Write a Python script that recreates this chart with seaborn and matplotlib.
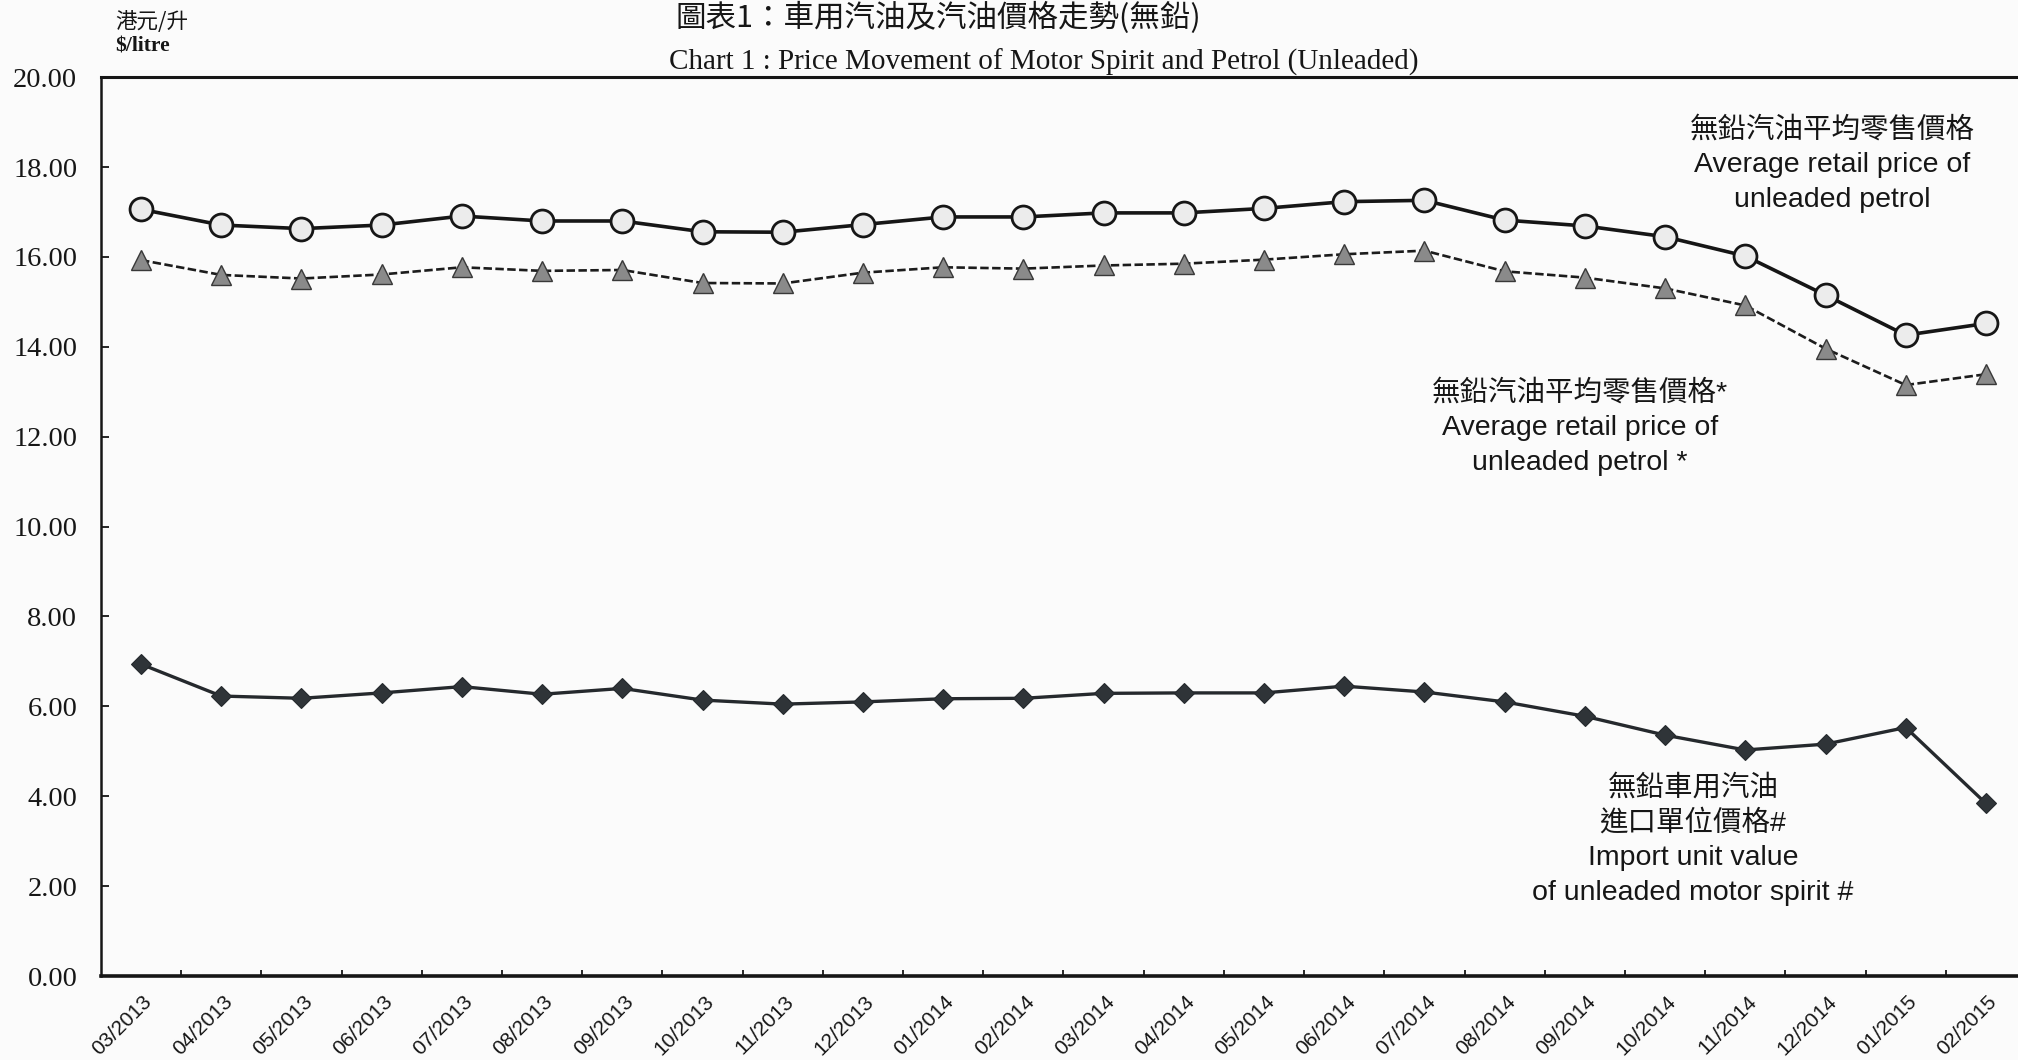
import numpy as np
import pandas as pd
import matplotlib
matplotlib.use("Agg")
import matplotlib.pyplot as plt
import matplotlib.transforms as mtransforms
import seaborn as sns

# ---------------- data ----------------
months = ["03/2013", "04/2013", "05/2013", "06/2013", "07/2013", "08/2013",
          "09/2013", "10/2013", "11/2013", "12/2013", "01/2014", "02/2014",
          "03/2014", "04/2014", "05/2014", "06/2014", "07/2014", "08/2014",
          "09/2014", "10/2014", "11/2014", "12/2014", "01/2015", "02/2015"]

retail_price = [17.06, 16.71, 16.63, 16.71, 16.91, 16.80, 16.80, 16.56,
                16.55, 16.72, 16.89, 16.89, 16.98, 16.98, 17.08, 17.23,
                17.26, 16.82, 16.69, 16.45, 16.02, 15.15, 14.26, 14.52]

retail_price_star = [15.93, 15.60, 15.52, 15.61, 15.77, 15.69, 15.71, 15.42,
                     15.41, 15.65, 15.77, 15.74, 15.81, 15.85, 15.94, 16.06,
                     16.14, 15.68, 15.54, 15.30, 14.92, 13.96, 13.15, 13.39]

import_unit_value = [6.94, 6.23, 6.18, 6.30, 6.44, 6.27, 6.40, 6.14,
                     6.05, 6.10, 6.17, 6.18, 6.29, 6.30, 6.30, 6.45,
                     6.32, 6.10, 5.78, 5.36, 5.03, 5.16, 5.53, 3.84]

y_ticks = [0, 2, 4, 6, 8, 10, 12, 14, 16, 18, 20]

title_zh = "圖表1：車用汽油及汽油價格走勢(無鉛)"
title_en = "Chart 1 : Price Movement of Motor Spirit and Petrol (Unleaded)"
unit_zh = "港元/升"
unit_en = "$/litre"
label_retail = "無鉛汽油平均零售價格\nAverage retail price of\nunleaded petrol"
label_retail_star = "無鉛汽油平均零售價格*\nAverage retail price of\nunleaded petrol *"
label_import = "無鉛車用汽油\n進口單位價格#\nImport unit value\nof unleaded motor spirit #"

# ---------------- style ----------------
sns.set_theme(style="white")
plt.rcParams["font.family"] = ["Liberation Serif", "Noto Sans CJK TC"]

BG = "#fbfbfb"
INK = "#161616"

fig = plt.figure(figsize=(20.18, 10.6), dpi=100, facecolor=BG)
ax = fig.add_axes([0.050, 0.0792, 0.954, 0.848])
ax.set_facecolor(BG)

df = pd.DataFrame({
    "idx": np.arange(len(months)),
    "retail": retail_price,
    "retail_star": retail_price_star,
    "import": import_unit_value,
})

sns.lineplot(data=df, x="idx", y="import", ax=ax, color="#25292d",
             linewidth=2.4, marker="D", markersize=10,
             markerfacecolor="#2f3438", markeredgecolor="#25292d",
             markeredgewidth=0.8, zorder=3)
sns.lineplot(data=df, x="idx", y="retail_star", ax=ax, color="#1c1c1c",
             linewidth=1.9, linestyle=(0, (3.2, 1.3)), marker="^",
             markersize=14.5, markerfacecolor="#8a8a8a",
             markeredgecolor="#383838", markeredgewidth=1.0, zorder=4)
sns.lineplot(data=df, x="idx", y="retail", ax=ax, color=INK,
             linewidth=2.6, marker="o", markersize=16.5,
             markerfacecolor="#ececec", markeredgecolor=INK,
             markeredgewidth=2.0, zorder=5)

# ---------------- axes ----------------
ax.set_xlim(-0.5, len(months) - 0.5)
ax.set_ylim(0, 20)
ax.set_xlabel("")
ax.set_ylabel("")

ax.set_yticks(y_ticks)
ax.set_yticklabels([f"{v:.2f}" for v in y_ticks], fontsize=20.5,
                   family="Liberation Serif", color=INK)

ax.set_xticks(np.arange(len(months)))
ax.set_xticklabels(months, rotation=45, ha="right", va="center",
                   rotation_mode="anchor", fontsize=15,
                   family="Liberation Sans", color=INK)
ax.set_xticks(np.arange(0.5, len(months) - 1, 1.0), minor=True)

ax.tick_params(axis="x", which="major", bottom=True, length=0, pad=16.5)
ax.tick_params(axis="x", which="minor", bottom=True, direction="in",
               length=4.5, width=1.3, color=INK)
ax.tick_params(axis="y", which="major", left=True, direction="in",
               length=5.5, width=1.3, color=INK, pad=17)

offset = mtransforms.ScaledTranslation(0.08, 0, fig.dpi_scale_trans)
for lab in ax.get_xticklabels():
    lab.set_transform(lab.get_transform() + offset)

for side in ["left", "top", "bottom", "right"]:
    ax.spines[side].set_color(INK)
ax.spines["left"].set_linewidth(1.8)
ax.spines["top"].set_linewidth(2.2)
ax.spines["bottom"].set_linewidth(2.6)
ax.spines["right"].set_visible(False)
ax.grid(False)

# ---------------- texts ----------------
fig.text(0.465, 0.9985, title_zh, ha="center", va="top", fontsize=22,
         family=["Noto Sans CJK TC"], color=INK)
fig.text(0.517, 0.9415, title_en, ha="center", va="center", fontsize=21,
         family="Liberation Serif", color=INK)
fig.text(0.057, 0.979, unit_zh, ha="left", va="center", fontsize=15.5,
         family=["Noto Sans CJK TC"], color=INK)
fig.text(0.057, 0.9565, unit_en, ha="left", va="center", fontsize=15.5,
         family="Liberation Serif", weight="bold", color=INK)

ann_font = ["Liberation Sans", "Noto Sans CJK TC"]
fig.text(0.908, 0.8443, label_retail, ha="center", va="center",
         multialignment="center", fontsize=20.5, family=ann_font,
         linespacing=1.42, color=INK)
fig.text(0.783, 0.5962, label_retail_star, ha="center", va="center",
         multialignment="center", fontsize=20.5, family=ann_font,
         linespacing=1.42, color=INK)
fig.text(0.839, 0.2075, label_import, ha="center", va="center",
         multialignment="center", fontsize=20.5, family=ann_font,
         linespacing=1.42, color=INK)

fig.savefig("out.png", dpi=100, facecolor=BG)
